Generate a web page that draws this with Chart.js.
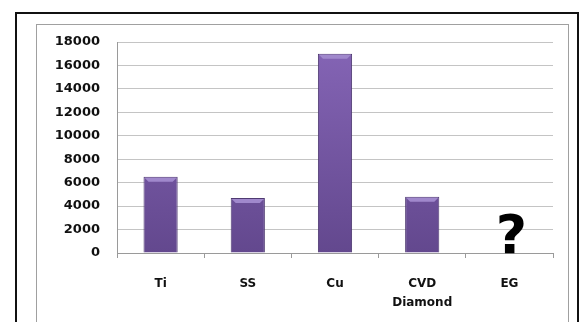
<!DOCTYPE html>
<html>
<head>
<meta charset="utf-8">
<script src="https://cdn.jsdelivr.net/npm/chart.js@4"></script>
<style>
  html, body { margin: 0; padding: 0; background: #fff; }
  #wrap { position: relative; width: 586px; height: 322px; overflow: hidden; }
  #outer { position: absolute; left: 15px; top: 12px; width: 560px; height: 330px; border: 2px solid #111; }
  #inner { position: absolute; left: 36px; top: 24px; width: 531px; height: 320px; border: 1px solid #a0a0a0; }
  canvas { position: absolute; left: 0; top: 0; }
</style>
</head>
<body>
<div id="wrap">
  <div id="outer"></div>
  <div id="inner"></div>
  <canvas id="c" width="586" height="322"></canvas>
</div>
<script>
// data
const materials = ["Ti", "SS", "Cu", ["CVD", "Diamond"], "EG"]
const conductivity = [6500, 4700, 17000, 4800, null]
const unknownMark = [null, null, null, null, "?"]
const yTicks = [0, 2000, 4000, 6000, 8000, 10000, 12000, 14000, 16000, 18000]

const ctx = document.getElementById("c").getContext("2d")

function barFill(context){
    const area = context.chart.chartArea
    if(!area) return "#7a5aa6"
    const g = context.chart.ctx.createLinearGradient(0, area.top, 0, area.bottom)
    g.addColorStop(0, "#8565b6")
    g.addColorStop(1, "#63488e")
    return g
}

// light bevel strip on top of each bar, and the "?" for the missing value
const extras = {
    id: "extras",
    afterDatasetsDraw(chart){
        const c = chart.ctx
        const meta = chart.getDatasetMeta(0)
        c.save()
        meta.data.forEach((bar, i) => {
            if(conductivity[i] == null) return
            const p = bar.getProps(["x", "y", "width"], true)
            const l = p.x - p.width / 2, r = p.x + p.width / 2
            c.fillStyle = "#a088cc"
            c.beginPath()
            c.moveTo(l + 1, p.y + 1)
            c.lineTo(r - 1, p.y + 1)
            c.lineTo(r - 5, p.y + 5)
            c.lineTo(l + 5, p.y + 5)
            c.closePath()
            c.fill()
        })
        const xs = chart.scales.x, ys = chart.scales.y
        c.fillStyle = "#000"
        c.font = "bold 54px 'DejaVu Sans'"
        c.textAlign = "center"
        c.textBaseline = "alphabetic"
        unknownMark.forEach((m, i) => {
            if(m) c.fillText(m, xs.getPixelForValue(i) + 2, ys.getPixelForValue(0))
        })
        c.restore()
    }
}

new Chart(ctx, {
    type: "bar",
    data: {
        labels: materials,
        datasets: [{
            data: conductivity,
            backgroundColor: barFill,
            borderColor: "#4f3a72",
            borderWidth: 1,
            barPercentage: 0.49,
            categoryPercentage: 0.8
        }]
    },
    options: {
        responsive: false,
        animation: false,
        layout: { padding: { left: 0, top: 42, right: 33, bottom: 0 } },
        plugins: { legend: { display: false }, tooltip: { enabled: false } },
        scales: {
            x: {
                afterFit(s){ s.height = 69 },
                grid: { offset: true, drawOnChartArea: false, color: "#9a9a9a", tickLength: 5 },
                border: { color: "#9a9a9a" },
                ticks: { color: "#111", padding: 16, maxRotation: 0, autoSkip: false,
                         font: { family: "'DejaVu Sans'", weight: "bold", size: 12, lineHeight: 1.6 } }
            },
            y: {
                min: 0, max: 18000,
                afterFit(s){ s.width = 117 },
                afterBuildTicks(s){ s.ticks = yTicks.map(v => ({ value: v })) },
                grid: { color: "#c4c4c4", drawTicks: false },
                border: { color: "#9a9a9a" },
                ticks: { color: "#111", padding: 17, callback: v => String(v),
                         font: { family: "'DejaVu Sans'", weight: "bold", size: 13 } }
            }
        }
    },
    plugins: [extras]
})
</script>
</body>
</html>
